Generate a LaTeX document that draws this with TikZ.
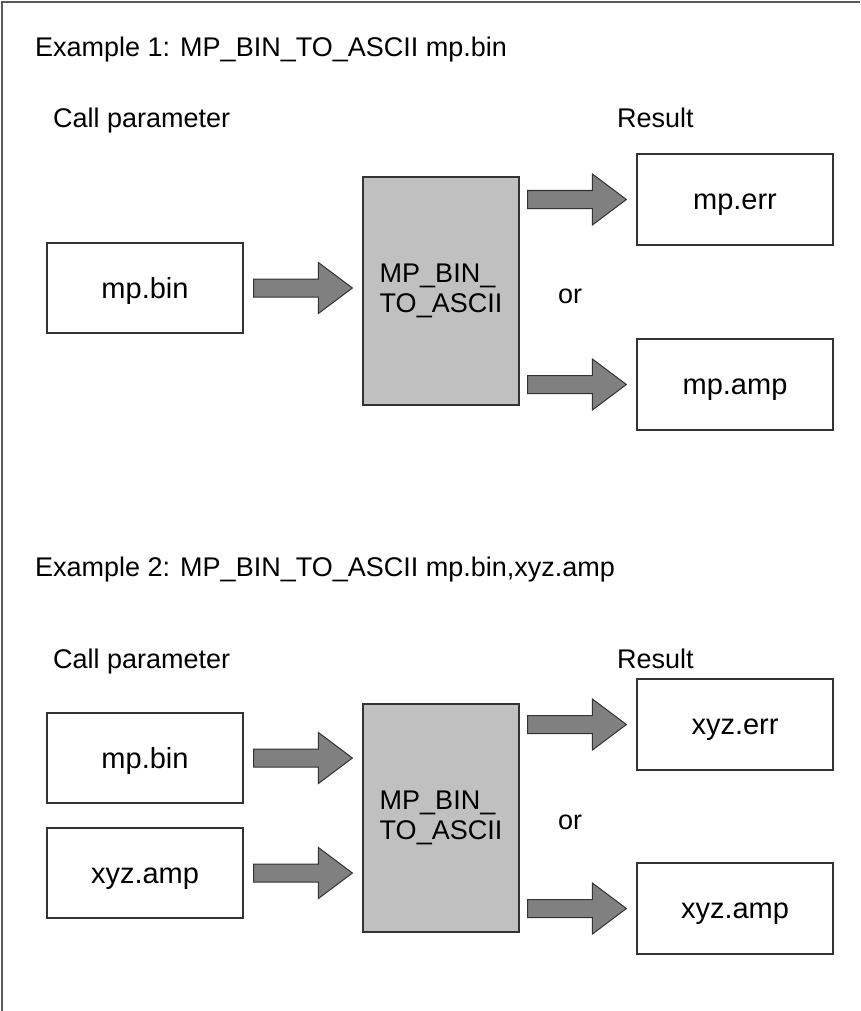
\documentclass[tikz,border=0pt]{standalone}
\usepackage{fontspec}
\setmainfont{Liberation Sans}
\usetikzlibrary{calc}
\definecolor{boxline}{HTML}{333333}
\definecolor{framegray}{HTML}{5A5A5A}
\definecolor{procgray}{HTML}{C0C0C0}
\definecolor{arrowgray}{HTML}{808080}
\newcommand\barrowpath[2]{%
  \draw[blockarrow] let \p1=(#1), \p2=(#2) in
   (\x1,\y1+9pt) -- (\x2-34pt,\y1+9pt) -- (\x2-34pt,\y1+25.5pt) -- (\x2,\y1)
   -- (\x2-34pt,\y1-25.5pt) -- (\x2-34pt,\y1-9pt) -- (\x1,\y1-9pt) -- cycle;}
\begin{document}
\begin{tikzpicture}[x=1pt,y=-1pt,
  every node/.style={font=\fontsize{27}{30}\selectfont, inner sep=0pt},
  filebox/.style={draw=boxline, line width=1.2pt, fill=white, minimum width=196pt, minimum height=90pt,
    font=\fontsize{29}{32}\selectfont, text height=26pt, text depth=6pt},
  rbox/.style={filebox, minimum height=91pt},
  procbox/.style={draw=boxline, line width=1.2pt, fill=procgray, minimum width=156pt, minimum height=228pt, align=left},
  textlabel/.style={anchor=base west},
  blockarrow/.style={draw=boxline, line width=1pt, fill=arrowgray, line join=miter},
  frameline/.style={draw=framegray, line width=2pt}]
\fill[white] (0,0) rectangle (860,1011);
\useasboundingbox (0,0) rectangle (860,1011);
\draw[frameline] (2,1011) -- (2,2) -- (860,2);

% ---------- Example 1 ----------
\node[textlabel] (t1) at (35,57) {Example 1: MP\_BIN\_TO\_ASCII mp.bin};
\node[textlabel] (cp1) at (53,128) {Call parameter};
\node[textlabel] (res1) at (617,128) {Result};
\node[filebox] (b1) at (145,288) {mp.bin};
\node[procbox] (g1) at (441,291) {MP\_BIN\_\\TO\_ASCII};
\node[rbox] (r1e) at (735,199.5) {mp.err};
\node[rbox] (r1a) at (735,384.5) {mp.amp};
\node[textlabel] (or1) at (558,303) {or};

\barrowpath{$(b1.east)+(10pt,0)$}{$(g1.west |- b1.east)+(-10pt,0)$}
\barrowpath{$(g1.east |- r1e.west)+(8pt,0)$}{$(r1e.west)+(-10pt,0)$}
\barrowpath{$(g1.east |- r1a.west)+(8pt,0)$}{$(r1a.west)+(-10pt,0)$}

% ---------- Example 2 ----------
\node[textlabel] (t2) at (35,576) {Example 2: MP\_BIN\_TO\_ASCII mp.bin,xyz.amp};
\node[textlabel] (cp2) at (53,668) {Call parameter};
\node[textlabel] (res2) at (617,668) {Result};
\node[filebox] (b2) at (145,758) {mp.bin};
\node[filebox] (b3) at (145,873) {xyz.amp};
\node[procbox] (g2) at (441,818) {MP\_BIN\_\\TO\_ASCII};
\node[rbox] (r2e) at (735,724.5) {xyz.err};
\node[rbox] (r2a) at (735,908.5) {xyz.amp};
\node[textlabel] (or2) at (558,829) {or};

\barrowpath{$(b2.east)+(10pt,0)$}{$(g2.west |- b2.east)+(-10pt,0)$}
\barrowpath{$(b3.east)+(10pt,0)$}{$(g2.west |- b3.east)+(-10pt,0)$}
\barrowpath{$(g2.east |- r2e.west)+(8pt,0)$}{$(r2e.west)+(-10pt,0)$}
\barrowpath{$(g2.east |- r2a.west)+(8pt,0)$}{$(r2a.west)+(-10pt,0)$}
\end{tikzpicture}
\end{document}
